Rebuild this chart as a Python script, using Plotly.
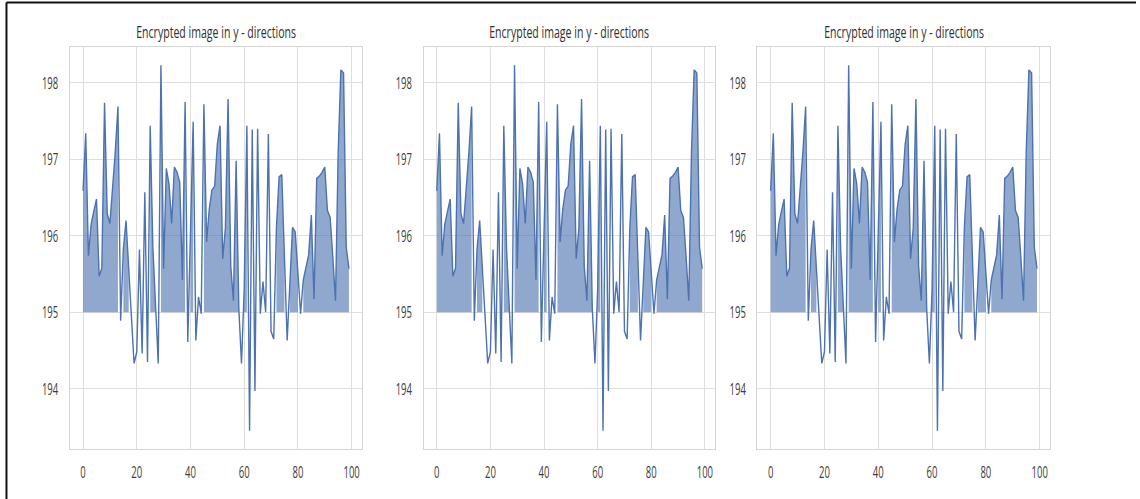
import plotly.graph_objects as go

# pixel values along the y direction of the encrypted image (samples 0..99)
sample_index = list(range(100))
pixel_values = [
    196.59, 197.34, 195.74, 196.15, 196.32, 196.48, 195.47, 195.58, 197.74, 196.29,
    196.16, 196.60, 197.10, 197.69, 194.89, 195.82, 196.20, 195.57, 194.94, 194.33,
    194.48, 195.82, 194.46, 196.57, 194.35, 197.44, 195.85, 195.05, 194.33, 198.23,
    195.57, 196.88, 196.68, 196.16, 196.90, 196.83, 196.70, 195.42, 197.75, 194.61,
    195.90, 197.49, 194.63, 195.20, 194.98, 197.72, 195.92, 196.35, 196.60, 196.65,
    197.20, 197.44, 195.70, 196.10, 197.79, 195.60, 195.15, 196.98, 195.05, 194.33,
    195.30, 197.44, 193.45, 197.39, 193.97, 197.40, 194.98, 195.40, 195.00, 197.33,
    194.75, 194.65, 196.10, 196.77, 196.80, 195.70, 194.63, 195.37, 196.11, 196.05,
    195.55, 194.98, 195.42, 195.60, 195.75, 196.27, 195.17, 196.75, 196.78, 196.83,
    196.90, 196.33, 196.24, 195.72, 195.15, 197.10, 198.17, 198.13, 195.85, 195.57,
]
baseline = 195.0
panel_titles = ["Encrypted image in y - directions"] * 3
x_ticks = [0, 20, 40, 60, 80, 100]
y_ticks = [194, 195, 196, 197, 198]

W, H = 1140, 499
# plot-area pixel boxes (left, right) and common (top, bottom)
panels_px = [(70, 363.5), (425, 718), (760, 1054)]
top_px, bottom_px = 47, 449

LINE = "#4c72b0"
FILL = "rgba(76,114,176,0.62)"
FONT = "Open Sans, sans-serif"


def fill_polygons(xs, ys, base):
    """Polygons between the series and the baseline over runs where y > base."""
    px, py = [], []
    run = []
    for x, y in list(zip(xs, ys)) + [(None, base)]:
        if x is not None and y > base:
            run.append((x, y))
            continue
        if len(run) > 1:
            px += [p[0] for p in run] + [p[0] for p in reversed(run)] + [None]
            py += [p[1] for p in run] + [base] * len(run) + [None]
        run = []
    return px, py


fig = go.Figure()
fx, fy = fill_polygons(sample_index, pixel_values, baseline)

xr = [-4.95, 103.95]
span = max(pixel_values) - min(pixel_values)
yr = [min(pixel_values) - 0.05 * span, max(pixel_values) + 0.05 * span]

for i, (l, r) in enumerate(panels_px):
    sfx = "" if i == 0 else str(i + 1)
    fig.add_trace(go.Scatter(x=fx, y=fy, mode="none", fill="toself", fillcolor=FILL,
                             xaxis="x" + sfx, yaxis="y" + sfx, hoverinfo="skip",
                             showlegend=False))
    fig.add_trace(go.Scatter(x=sample_index, y=pixel_values, mode="lines",
                             line=dict(color=LINE, width=1.4),
                             xaxis="x" + sfx, yaxis="y" + sfx, showlegend=False))
    common = dict(showgrid=True, gridcolor="#dedede", gridwidth=1.2, zeroline=False,
                  showline=True, linecolor="#d4d4d4", linewidth=1.2, mirror=True,
                  ticks="", tickfont=dict(family=FONT, size=17, color="#3c3c3c"))
    fig.update_layout(**{
        "xaxis" + sfx: dict(domain=[l / W, r / W], range=xr, tickvals=x_ticks,
                            anchor="y" + sfx, ticklabelstandoff=8, **common),
        "yaxis" + sfx: dict(domain=[1 - bottom_px / H, 1 - top_px / H], range=yr,
                            tickvals=y_ticks, anchor="x" + sfx, ticklabelstandoff=7,
                            **common),
    })
    fig.add_annotation(text=panel_titles[i], x=(l + r) / 2 / W, y=1 - 32 / H,
                       xref="paper", yref="paper", showarrow=False,
                       xanchor="center", yanchor="middle",
                       font=dict(family=FONT, size=16, color="#303030"))

# outer frame (top and left edges)
fig.add_shape(type="line", xref="paper", yref="paper", x0=6.5 / W, x1=1.0,
              y0=1 - 2.5 / H, y1=1 - 2.5 / H, line=dict(color="#111111", width=2))
fig.add_shape(type="line", xref="paper", yref="paper", x0=6.5 / W, x1=6.5 / W,
              y0=0, y1=1 - 2.5 / H, line=dict(color="#111111", width=2))

fig.update_layout(width=W, height=H, margin=dict(l=0, r=0, t=0, b=0),
                  paper_bgcolor="white", plot_bgcolor="white")

# narrow the lettering horizontally around each label's anchor point
condense_js = """
var gd = document.getElementById('{plot_id}');
function condense(sel, s) {
  gd.querySelectorAll(sel).forEach(function (t) {
    if (t.getAttribute('data-cond')) { return; }
    var x = parseFloat(t.getAttribute('x') || 0);
    var y = parseFloat(t.getAttribute('y') || 0);
    var tr = t.getAttribute('transform') || '';
    t.setAttribute('transform', tr + ' translate(' + x + ',' + y + ') scale(' + s +
                   ',1) translate(' + (-x) + ',' + (-y) + ')');
    t.setAttribute('data-cond', '1');
  });
}
condense('.xaxislayer-above text, .yaxislayer-above text', 0.56);
condense('.annotation-text', 0.66);
"""

fig.write_html("out.html", post_script=condense_js)
